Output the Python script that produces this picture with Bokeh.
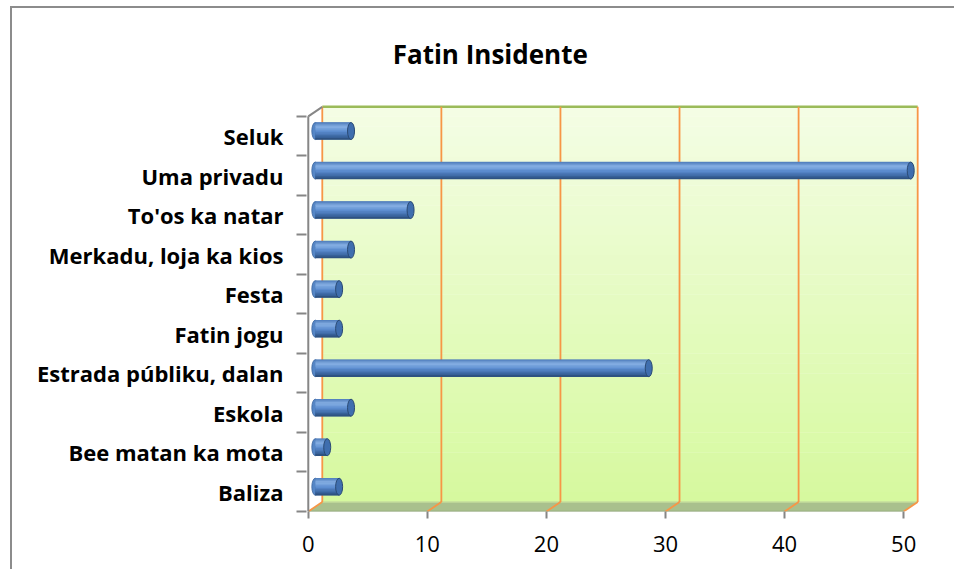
from bokeh.plotting import figure
from bokeh.models import Range1d, FixedTicker, Label
from bokeh.embed import file_html
from bokeh.resources import INLINE

# ---- data ----
categories = ["Baliza", "Bee matan ka mota", "Eskola", "Estrada públiku, dalan",
              "Fatin jogu", "Festa", "Merkadu, loja ka kios", "To'os ka natar",
              "Uma privadu", "Seluk"]
counts = [2, 1, 3, 28, 2, 2, 3, 8, 50, 3]
x_ticks = [0, 10, 20, 30, 40, 50]
title_text = "Fatin Insidente"

# ---- 3D geometry (data units) ----
DX, DY = 1.176, 0.24          # depth offset of back wall
BDX, BDY = 0.59, 0.127        # bars sit at mid depth
BAR_H = 0.43
XMAX = x_ticks[-1]
NCAT = len(categories)

p = figure(width=944, height=563, output_backend="svg", toolbar_location=None,
           x_range=Range1d(-0.15, 52.0), y_range=Range1d(0, 12.475),
           min_border_left=294, min_border_right=29, min_border_top=10,
           min_border_bottom=60)
p.background_fill_color = "white"
p.border_fill_color = "white"
p.outline_line_color = None
p.grid.visible = False
p.styles = {"border-left": "2px solid #8c8c8c", "border-top": "2px solid #8c8c8c",
            "margin-left": "10px", "margin-top": "6px"}


def lerp(c1, c2, t):
    a = [int(c1[i:i + 2], 16) for i in (1, 3, 5)]
    b = [int(c2[i:i + 2], 16) for i in (1, 3, 5)]
    return "#%02x%02x%02x" % tuple(round(a[k] + (b[k] - a[k]) * t) for k in range(3))


def ramp(stops, t):
    for (t0, c0), (t1, c1) in zip(stops[:-1], stops[1:]):
        if t <= t1:
            return lerp(c0, c1, (t - t0) / (t1 - t0) if t1 > t0 else 0)
    return stops[-1][1]


# back wall gradient
N = 40
top_c, bot_c = "#f4fde5", "#d6f99e"
bots = [DY + NCAT * j / N for j in range(N)]
tops = [DY + NCAT * (j + 1) / N + 0.01 for j in range(N)]
cols = [lerp(bot_c, top_c, (j + 0.5) / N) for j in range(N)]
p.quad(left=DX, right=XMAX + DX, bottom=bots, top=tops, fill_color=cols, line_color=None)

# floor
p.patch([0, XMAX, XMAX + DX, DX], [0, 0, DY, DY], fill_color="#a9c08d", line_color=None)
p.line([DX, XMAX + DX], [DY, DY], line_color="#c4dc9c", line_width=1.5)
p.line([0, XMAX], [0, 0], line_color="#8fa47a", line_width=1.5)

# wall top edge
p.line([DX, XMAX + DX], [NCAT + DY, NCAT + DY], line_color="#9bbb59", line_width=2.5)

# gridlines (orange) on wall and floor
p.segment(x0=[t + DX for t in x_ticks], y0=[DY] * len(x_ticks),
          x1=[t + DX for t in x_ticks], y1=[NCAT + DY] * len(x_ticks),
          line_color="#f79646", line_width=1.8)
p.segment(x0=x_ticks, y0=[0] * len(x_ticks),
          x1=[t + DX for t in x_ticks], y1=[DY] * len(x_ticks),
          line_color="#f79646", line_width=1.8)

# front left axis
p.line([0, 0], [0, NCAT], line_color="#868686", line_width=2)
p.line([0, DX], [NCAT, NCAT + DY], line_color="#868686", line_width=2)

# cylinder bars
ys = [i + 0.5 + BDY for i in range(NCAT)]
ends = [v + BDX for v in counts]
stops = [(0.0, "#4a79b8"), (0.25, "#88b1e5"), (0.55, "#5b8ccf"), (0.85, "#3a659f"), (1.0, "#2a4a76")]
nb = 12
p.ellipse(x=[BDX] * NCAT, y=ys, width=7, height=17, width_units="screen",
          height_units="screen", fill_color="#5586c6", line_color="#3a659e", line_width=0.8)
p.hbar(y=ys, left=BDX, right=ends, height=BAR_H, fill_color="#3a659e", line_color=None)
for k in range(nb):
    t = (k + 0.5) / nb
    off = BAR_H / 2 - t * BAR_H
    p.hbar(y=[y + off for y in ys], left=BDX, right=ends, height=BAR_H / nb * 1.35,
           fill_color=ramp(stops, t), line_color=None)
p.ellipse(x=ends, y=ys, width=7, height=17, width_units="screen",
          height_units="screen", fill_color="#3f6eae", line_color="#2a4a74", line_width=1)

# axes
xa = p.xaxis[0]
xa.ticker = FixedTicker(ticks=x_ticks)
xa.axis_line_color = None
xa.major_tick_line_color = "#868686"
xa.major_tick_line_width = 2
xa.major_tick_out = 7
xa.major_tick_in = 0
xa.minor_tick_line_color = None
xa.major_label_text_font = "Open Sans"
xa.major_label_text_font_size = "22px"
xa.major_label_text_color = "#000000"
xa.major_label_standoff = 17

ya = p.yaxis[0]
ya.ticker = FixedTicker(ticks=[i + 0.5 for i in range(NCAT)], minor_ticks=list(range(NCAT + 1)))
ya.major_label_overrides = {i + 0.5: c for i, c in enumerate(categories)}
ya.axis_line_color = None
ya.major_tick_line_color = None
ya.major_tick_out = 0
ya.major_tick_in = 0
ya.minor_tick_line_color = "#868686"
ya.minor_tick_line_width = 2
ya.minor_tick_out = 10
ya.minor_tick_in = 0
ya.major_label_text_font = "Open Sans"
ya.major_label_text_font_style = "bold"
ya.major_label_text_font_size = "22px"
ya.major_label_text_color = "#000000"
ya.major_label_standoff = 13

p.add_layout(Label(x=15.28, y=11.58, text=title_text, text_font="Open Sans",
                   text_font_style="bold", text_font_size="26px", text_color="#000000",
                   text_align="center", text_baseline="alphabetic"))

open("out.html", "w").write(file_html(p, INLINE))
